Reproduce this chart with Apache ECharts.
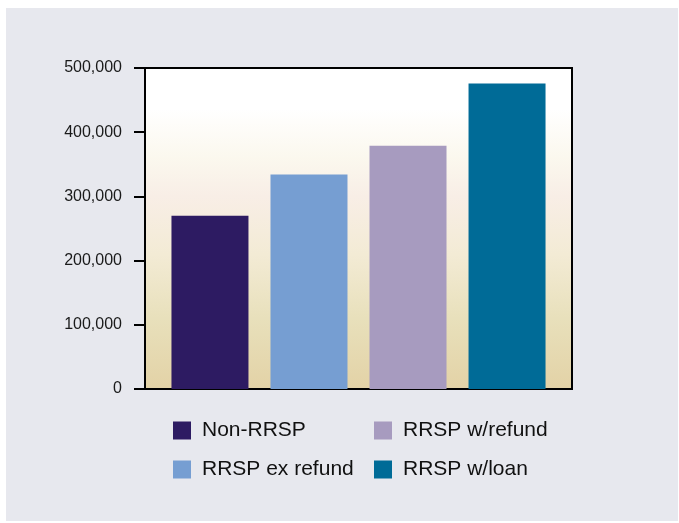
<!DOCTYPE html>
<html>
<head>
<meta charset="utf-8">
<script src="https://cdn.jsdelivr.net/npm/echarts@6/dist/echarts.min.js"></script>
<style>
  html, body { margin: 0; padding: 0; background: #ffffff; width: 679px; height: 523px; overflow: hidden; }
  #bg { position: absolute; left: 6px; top: 8px; width: 672px; height: 513px; background: #e7e8ee; }
  #chart { position: absolute; left: 0; top: 0; width: 679px; height: 523px; }
</style>
</head>
<body>
<div id="bg"></div>
<div id="chart"></div>
<script>
const seriesNames = ['Non-RRSP', 'RRSP ex refund', 'RRSP w/refund', 'RRSP w/loan'];
const seriesValues = [270000, 334000, 379000, 476000];
const seriesColors = ['#2d1b62', '#769ed2', '#a79bbf', '#006b97'];
const categories = [''];
const yTicks = [0, 100000, 200000, 300000, 400000, 500000];

const chart = echarts.init(document.getElementById('chart'), null, { renderer: 'canvas' });
const font = "'Liberation Sans', Arial, sans-serif";

const series = seriesNames.map((name, i) => ({
  name: name,
  type: 'bar',
  data: [seriesValues[i]],
  barWidth: 77,
  barGap: '28.6%',
  itemStyle: { color: seriesColors[i] }
}));

chart.setOption({
  animation: false,
  backgroundColor: 'transparent',
  grid: {
    left: 145, right: 107, top: 68, bottom: 134,
    show: true,
    borderColor: '#000',
    borderWidth: 2,
    backgroundColor: new echarts.graphic.LinearGradient(0, 0, 0, 1, [
      { offset: 0, color: '#ffffff' },
      { offset: 0.13, color: '#ffffff' },
      { offset: 0.28, color: '#fbf8ee' },
      { offset: 0.4, color: '#f8eee6' },
      { offset: 0.58, color: '#f3ebd5' },
      { offset: 0.78, color: '#e8e0bb' },
      { offset: 1, color: '#e3d2a6' }
    ])
  },
  legend: [
    {
      data: [seriesNames[0], seriesNames[1]],
      orient: 'vertical', left: 173, top: 420, padding: 0,
      icon: 'rect', itemWidth: 18, itemHeight: 18, itemGap: 18,
      textStyle: { fontSize: 21, color: '#111', fontFamily: font, padding: [0, 0, 0, 6] }
    },
    {
      data: [seriesNames[2], seriesNames[3]],
      orient: 'vertical', left: 374, top: 420, padding: 0,
      icon: 'rect', itemWidth: 18, itemHeight: 18, itemGap: 18,
      textStyle: { fontSize: 21, color: '#111', fontFamily: font, padding: [0, 0, 0, 6] }
    }
  ],
  xAxis: {
    type: 'category',
    data: categories,
    axisLine: { show: true, lineStyle: { color: '#000', width: 2 } },
    axisTick: { show: false },
    axisLabel: { show: false },
    splitLine: { show: false }
  },
  yAxis: {
    type: 'value',
    min: yTicks[0],
    max: yTicks[yTicks.length - 1],
    interval: yTicks[1] - yTicks[0],
    axisLine: { show: true, lineStyle: { color: '#000', width: 2 } },
    axisTick: { show: true, inside: false, length: 11, lineStyle: { color: '#000', width: 2 } },
    splitLine: { show: false },
    axisLabel: {
      margin: 23,
      fontSize: 16,
      color: '#1a1a1a',
      fontFamily: font,
      formatter: v => v.toLocaleString('en-US')
    }
  },
  series: series
});
</script>
</body>
</html>
